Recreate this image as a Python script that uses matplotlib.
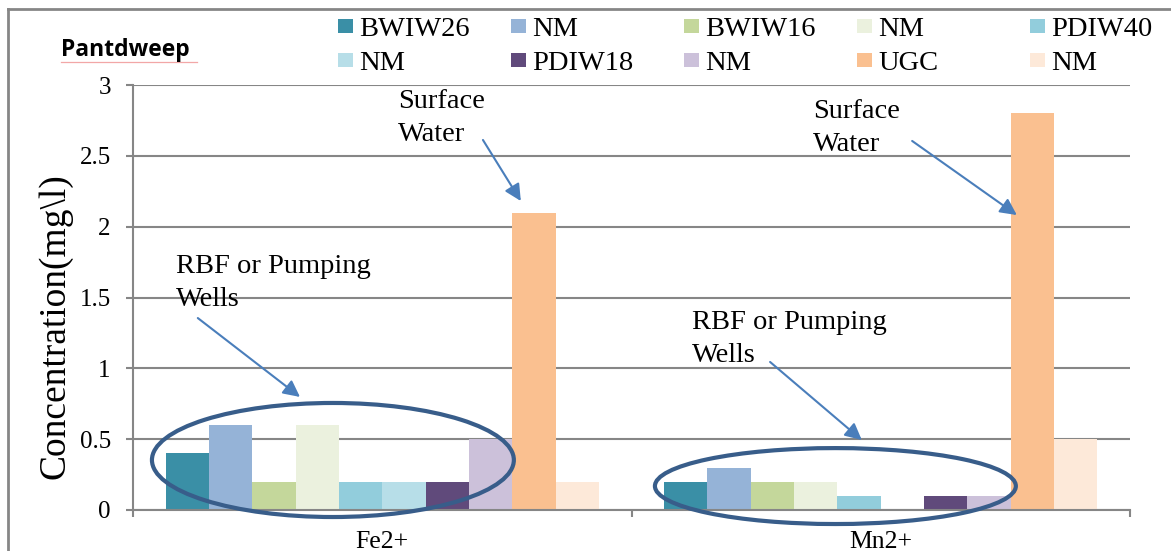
import matplotlib
matplotlib.use("Agg")
import matplotlib.pyplot as plt
from matplotlib.patches import Ellipse, Rectangle
from matplotlib.lines import Line2D
import numpy as np

# data
ions = ["Fe2+", "Mn2+"]
series = ["BWIW26", "NM", "BWIW16", "NM", "PDIW40",
          "NM", "PDIW18", "NM", "UGC", "NM"]
colors = ["#3A8FA6", "#95B3D7", "#C4D79B", "#EBF1DE", "#92CDDC",
          "#B7DEE8", "#604A7B", "#CCC1DA", "#FAC090", "#FDE9D9"]
fe_vals = [0.4, 0.6, 0.2, 0.6, 0.2, 0.2, 0.2, 0.5, 2.1, 0.2]
mn_vals = [0.2, 0.3, 0.2, 0.2, 0.1, 0.0, 0.1, 0.1, 2.8, 0.5]
yticks = [0, 0.5, 1, 1.5, 2, 2.5, 3]

W, H = 1171, 551
serif = "Liberation Serif"
grey = "#868686"

fig = plt.figure(figsize=(W / 100, H / 100), dpi=100)
ax = fig.add_axes([133 / W, 1 - 510 / H, (1130 - 133) / W, (510 - 85) / H])

# clustered bars, excel style (gap width 150%)
x = np.arange(len(ions))
bw = 1 / 11.5
for i, (name, col) in enumerate(zip(series, colors)):
    vals = [fe_vals[i], mn_vals[i]]
    ax.bar(x + (i - 4.5) * bw, vals, width=bw, color=col, zorder=2)

ax.set_xlim(-0.5, 1.5)
ax.set_ylim(0, 3)
ax.set_yticks(yticks)
ax.set_yticklabels([f"{t:g}" for t in yticks], fontfamily=serif, fontsize=18)
ax.set_xticks(x)
ax.set_xticklabels(ions, fontfamily=serif, fontsize=18.5)
ax.set_xticks([-0.5, 0.5, 1.5], minor=True)
ax.tick_params(axis="x", which="major", length=0, pad=15)
ax.tick_params(axis="x", which="minor", length=5, width=1.5, color=grey, direction="out")
ax.tick_params(axis="y", length=5, width=1.5, color=grey, direction="out", pad=11)
ax.yaxis.grid(True, color=grey, linewidth=1.5, zorder=0)
ax.set_axisbelow(True)
for s in ["top", "right"]:
    ax.spines[s].set_visible(False)
for s in ["left", "bottom"]:
    ax.spines[s].set_color(grey)
    ax.spines[s].set_linewidth(1.5)

fig.text(55 / W, 1 - 326 / H, "Concentration(mg\\l)", rotation=90,
         ha="center", va="center", fontfamily=serif, fontsize=27)

# callouts
ring = "#385D8A"
arrow = "#4A7EBB"
ax.add_patch(Ellipse((-0.099, 0.353), 0.726, 0.805, fill=False,
                     edgecolor=ring, linewidth=3, zorder=4, clip_on=False))
ax.add_patch(Ellipse((0.909, 0.169), 0.724, 0.536, fill=False,
                     edgecolor=ring, linewidth=3, zorder=4, clip_on=False))

notes = [
    ("Surface\nWater", (0.032, 2.97), (0.202, 2.612), (0.278, 2.181)),
    ("RBF or Pumping\nWells", (-0.414, 1.807), (-0.370, 1.355), (-0.165, 0.798)),
    ("Surface\nWater", (0.864, 2.90), (1.063, 2.605), (1.273, 2.082)),
    ("RBF or Pumping\nWells", (0.621, 1.412), (0.778, 1.045), (0.962, 0.494)),
]
for label, txy, tail, head in notes:
    ax.text(txy[0], txy[1], label, ha="left", va="top", fontfamily=serif,
            fontsize=20.5, linespacing=1.4, zorder=5)
    ax.annotate("", xy=head, xytext=tail,
                arrowprops=dict(arrowstyle="-|>,head_length=1.0,head_width=0.5",
                                color=arrow, linewidth=1.5, shrinkA=0, shrinkB=0),
                zorder=5)

# legend laid out in two rows of five
for i, (name, col) in enumerate(zip(series, colors)):
    row, c = divmod(i, 5)
    lx = 338 + c * 173
    ly = 26 + row * 34
    fig.add_artist(Rectangle((lx / W, 1 - (ly + 7) / H), 15 / W, 14 / H,
                             transform=fig.transFigure, color=col, linewidth=0))
    fig.text((lx + 21) / W, 1 - (ly + 10) / H, name, ha="left", va="baseline",
             fontfamily=serif, fontsize=20.5)

fig.text(61 / W, 1 - 56 / H, "Pantdweep", ha="left", va="baseline",
         fontfamily="Open Sans", fontweight="bold", fontsize=16.5)
fig.add_artist(Line2D([61 / W, 197 / W], [1 - 62 / H, 1 - 62 / H],
                      color="#F2A7A7", linewidth=0.9))

# chart frame
fig.add_artist(Line2D([8 / W, 8 / W], [0, 1 - 9 / H], color=grey, linewidth=2))
fig.add_artist(Line2D([8 / W, 1], [1 - 9 / H, 1 - 9 / H], color=grey, linewidth=2))

fig.savefig("out.png", dpi=100)
